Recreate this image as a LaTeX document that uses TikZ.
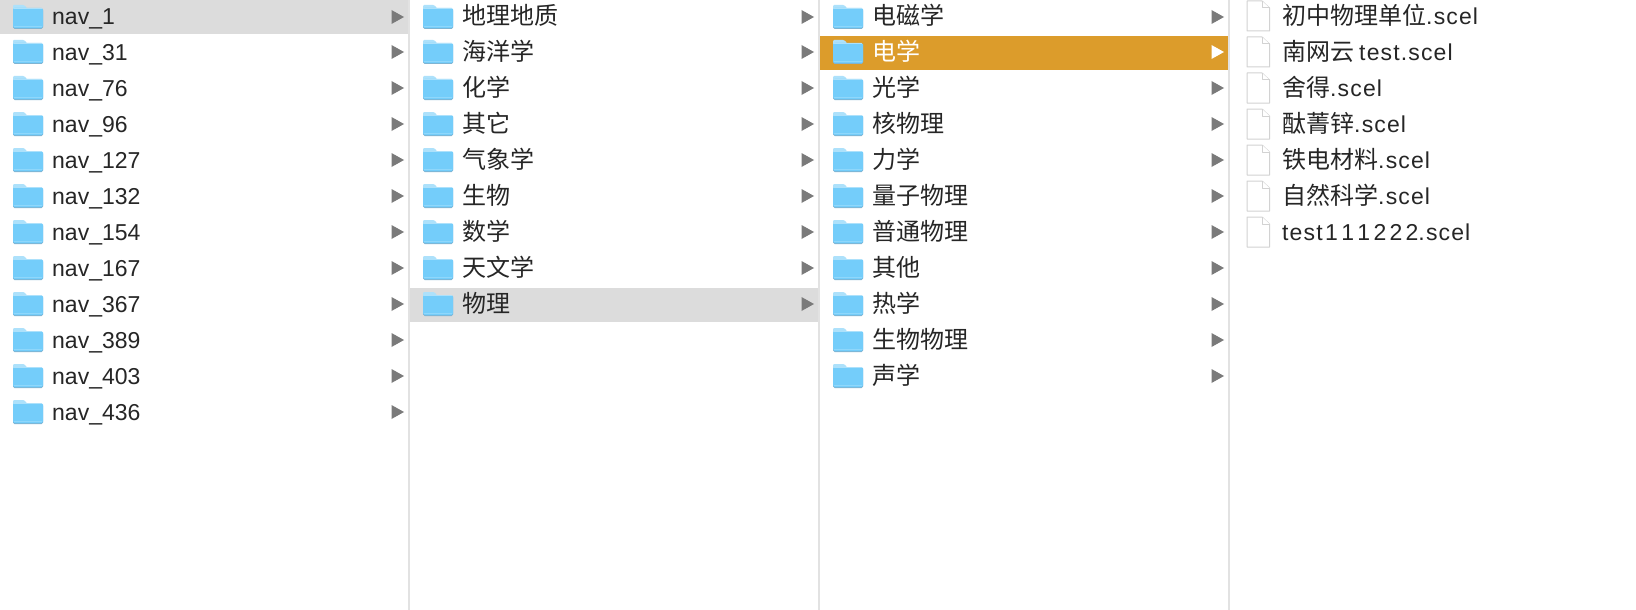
\documentclass[tikz,border=0pt]{standalone}
\usepackage{fontspec}
\setmainfont{Liberation Sans}
\newfontfamily\cjk{Noto Sans CJK SC}
\newfontfamily\scelfont[LetterSpace=5]{Liberation Sans}
\definecolor{sel}{HTML}{DCDCDC}
\definecolor{act}{HTML}{DC9C2B}
\definecolor{sepc}{HTML}{E2E2E2}
\definecolor{txt}{HTML}{262626}
\definecolor{arr}{HTML}{7A7A7A}
\definecolor{fbody}{HTML}{74CDFA}
\definecolor{ftab}{HTML}{ADE1FB}
\definecolor{fedge}{HTML}{7FB4D2}
\definecolor{fline}{HTML}{D2D2D2}
\tikzset{
  x=1pt,y=-1pt,
  label/.style={anchor=base west,inner sep=0pt,text=txt,font=\fontsize{23}{23}\selectfont},
  labelact/.style={label,text=white},
  tri/.style={fill=arr},
  pagebox/.style={draw=fline,fill=white,line width=1pt,line join=round},
  rule/.style={draw=sepc,line width=2pt}
}
\newcommand{\Z}[1]{{\cjk\fontsize{24}{24}\selectfont #1}}
\newcommand{\Sc}{{\scelfont .scel}}
\newcommand{\folder}[2]{%
  \begin{scope}[shift={(#1,#2)}]
    \fill[ftab,rounded corners=1pt] (13,-12) -- (24,-12) -- (27,-9) -- (27,-4) -- (13,-4) -- cycle;
    \fill[fedge,rounded corners=1.5pt] (13,-8) rectangle (43,12);
    \fill[fbody,rounded corners=1.5pt] (13,-9) rectangle (43,11);
    \fill[ftab] (14,-9) rectangle (42,-8.2);
    \draw[white,opacity=.2,line width=.6pt] (14,9) -- (42,9);
  \end{scope}}
\newcommand{\triangleat}[3]{\fill[#3] (#1+391.5,#2-7) -- (#1+404,#2) -- (#1+391.5,#2+7) -- cycle;}
\newcommand{\rowy}[1]{\pgfmathsetmacro{\yc}{16+36*#1+(#1==0?1:0)}}
\newcommand{\dirrow}[4][label]{%
  \pgfmathsetmacro{\xo}{#2}\rowy{#3}%
  \folder{\xo}{\yc}
  \node[#1] (c\the\numexpr#2/410\relax r#3) at (\xo+52,\yc+8) {#4};
  \triangleat{\xo}{\yc}{tri}}
\newcommand{\filerow}[2]{%
  \pgfmathsetmacro{\yc}{16+36*#1}%
  \draw[pagebox] (1247,\yc-15) -- (1262,\yc-15) -- (1269.5,\yc-8) -- (1269.5,\yc+15) -- (1247,\yc+15) -- cycle;
  \draw[pagebox] (1262,\yc-15) -- (1262,\yc-8) -- (1269.5,\yc-8);
  \rowy{#1}%
  \node[label] (f#1) at (1282,\yc+8) {#2};}
\begin{document}
\begin{tikzpicture}
\useasboundingbox (0,0) rectangle (1636,610);
\fill[white] (0,0) rectangle (1636,610);
\fill[sel] (0,0) rectangle (408,34);
\fill[sel] (410,288) rectangle (818,322);
\fill[act] (820,36) rectangle (1228,70);
\draw[rule] (409,0) -- (409,610);
\draw[rule] (819,0) -- (819,610);
\draw[rule] (1229,0) -- (1229,610);
\dirrow{0}{0}{nav\_1}
\dirrow{0}{1}{nav\_31}
\dirrow{0}{2}{nav\_76}
\dirrow{0}{3}{nav\_96}
\dirrow{0}{4}{nav\_127}
\dirrow{0}{5}{nav\_132}
\dirrow{0}{6}{nav\_154}
\dirrow{0}{7}{nav\_167}
\dirrow{0}{8}{nav\_367}
\dirrow{0}{9}{nav\_389}
\dirrow{0}{10}{nav\_403}
\dirrow{0}{11}{nav\_436}
\dirrow{410}{0}{\Z{地理地质}}
\dirrow{410}{1}{\Z{海洋学}}
\dirrow{410}{2}{\Z{化学}}
\dirrow{410}{3}{\Z{其它}}
\dirrow{410}{4}{\Z{气象学}}
\dirrow{410}{5}{\Z{生物}}
\dirrow{410}{6}{\Z{数学}}
\dirrow{410}{7}{\Z{天文学}}
\dirrow{410}{8}{\Z{物理}}
\dirrow{820}{0}{\Z{电磁学}}
\begin{scope}
\pgfmathsetmacro{\yc}{52}
\folder{820}{\yc}
\node[labelact] (c2r1) at (872,\yc+8) {\Z{电学}};
\triangleat{820}{\yc}{white}
\end{scope}
\dirrow{820}{2}{\Z{光学}}
\dirrow{820}{3}{\Z{核物理}}
\dirrow{820}{4}{\Z{力学}}
\dirrow{820}{5}{\Z{量子物理}}
\dirrow{820}{6}{\Z{普通物理}}
\dirrow{820}{7}{\Z{其他}}
\dirrow{820}{8}{\Z{热学}}
\dirrow{820}{9}{\Z{生物物理}}
\dirrow{820}{10}{\Z{声学}}
\filerow{0}{\Z{初中物理单位}\Sc}
\filerow{1}{\Z{南网云}\kern5pt{\scelfont test}\Sc}
\filerow{2}{\Z{舍得}\Sc}
\filerow{3}{\Z{酞菁锌}\Sc}
\filerow{4}{\Z{铁电材料}\Sc}
\filerow{5}{\Z{自然科学}\Sc}
\filerow{6}{{\scelfont test}\kern2.5pt 1\kern3.3pt 1\kern3.3pt 1\kern3.3pt 2\kern3.3pt 2\kern3.3pt 2\Sc}
\end{tikzpicture}
\end{document}
